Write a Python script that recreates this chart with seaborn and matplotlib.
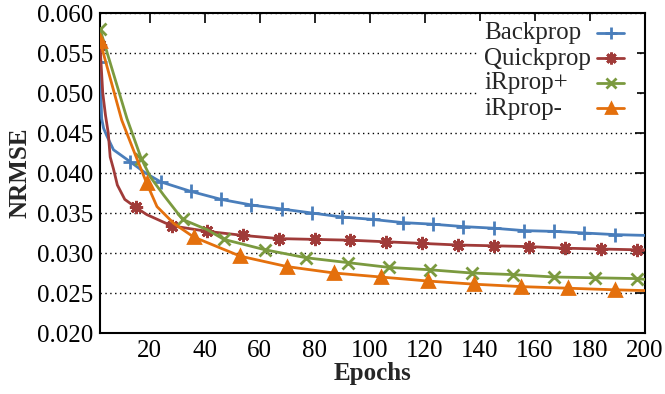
import numpy as np
import pandas as pd
import matplotlib
matplotlib.use("Agg")
import matplotlib.pyplot as plt
from matplotlib.patches import Rectangle
import seaborn as sns

# ---- data ----
series_names = ["Backprop", "Quickprop", "iRprop+", "iRprop-"]

bp_epochs = [2, 2.6, 3.3, 4.4, 6.9, 13, 18.5, 24, 35, 46, 57, 68, 79, 90, 101, 112, 123, 134, 145, 156, 167, 178, 189, 200]
bp_nrmse = [0.0539, 0.0468, 0.0456, 0.0447, 0.0429, 0.0414, 0.0400, 0.0389, 0.0377, 0.0367, 0.0360, 0.0355, 0.0350,
            0.0345, 0.0342, 0.0338, 0.0336, 0.0333, 0.0331, 0.0328, 0.0327, 0.0325, 0.0323, 0.0322]
bp_marks = [2, 13, 24, 35, 46, 57, 68, 79, 90, 101, 112, 123, 134, 145, 156, 167, 178, 189]

qp_epochs = [2, 3, 4, 5, 5.7, 6.9, 8.3, 11, 15, 19, 28, 41, 54, 67, 80, 93, 106, 119, 132, 145, 158, 171, 184, 197, 200]
qp_nrmse = [0.0560, 0.0500, 0.0472, 0.0450, 0.0420, 0.0405, 0.0385, 0.0367, 0.0357, 0.0348, 0.0334, 0.0327, 0.0322,
            0.0318, 0.0317, 0.0316, 0.0314, 0.0312, 0.0310, 0.0309, 0.0308, 0.0306, 0.0305, 0.0304, 0.0304]
qp_marks = [2, 15, 28, 41, 54, 67, 80, 93, 106, 119, 132, 145, 158, 171, 184, 197]

ip_epochs = [2, 11.8, 17, 20.3, 25.2, 32, 41, 47, 62, 77, 92, 107, 122, 137, 152, 167, 182, 197, 200]
ip_nrmse = [0.0580, 0.0468, 0.0418, 0.0395, 0.0372, 0.0342, 0.0329, 0.0317, 0.0304, 0.0294, 0.0288, 0.0282, 0.0279,
            0.0275, 0.0273, 0.0270, 0.0269, 0.0268, 0.0267]
ip_marks = [2, 17, 32, 47, 62, 77, 92, 107, 122, 137, 152, 167, 182, 197]

im_epochs = [2, 9.9, 14.8, 19, 22.7, 28.8, 36, 53, 70, 87, 104, 121, 138, 155, 172, 189, 200]
im_nrmse = [0.0565, 0.0466, 0.0423, 0.0387, 0.0358, 0.0337, 0.0320, 0.0296, 0.0283, 0.0275, 0.0270, 0.0265, 0.0261,
            0.0258, 0.0256, 0.0254, 0.0253]
im_marks = [2, 19, 36, 53, 70, 87, 104, 121, 138, 155, 172, 189]

x_ticks = [20, 40, 60, 80, 100, 120, 140, 160, 180, 200]
y_ticks = [0.020, 0.025, 0.030, 0.035, 0.040, 0.045, 0.050, 0.055, 0.060]

# ---- styling ----
sns.set_style("white")
plt.rcParams["font.family"] = ["Liberation Serif", "DejaVu Serif"]

colors = ["#4a7ebb", "#a03b39", "#7b9a3f", "#e4700d"]
markers = ["+", (8, 2, 0), "x", "^"]
msizes = [9.5, 9.5, 8.5, 8]

W, H = 665, 394
L, R, T, B = 100, 645, 13, 333
fig = plt.figure(figsize=(W / 100, H / 100), dpi=100)
ax = fig.add_axes([L / W, 1 - B / H, (R - L) / W, (B - T) / H])


def fx(px):
    return (px - L) / (R - L)


def fy(py):
    return (B - py) / (B - T)


all_data = [
    (bp_epochs, bp_nrmse, bp_marks),
    (qp_epochs, qp_nrmse, qp_marks),
    (ip_epochs, ip_nrmse, ip_marks),
    (im_epochs, im_nrmse, im_marks),
]

for i, (ep, val, mk) in enumerate(all_data):
    df = pd.DataFrame({"Epochs": ep, "NRMSE": val})
    idx = [j for j, e in enumerate(ep) if e in mk]
    sns.lineplot(data=df, x="Epochs", y="NRMSE", ax=ax, color=colors[i], lw=2.0,
                 marker=markers[i], markersize=msizes[i], markeredgewidth=2,
                 markeredgecolor=colors[i], markerfacecolor=colors[i],
                 markevery=idx, sort=False, estimator=None, zorder=3, legend=False)

ax.set_xlim(2, 200)
ax.set_ylim(0.020, 0.060)
ax.set_xticks(x_ticks)
ax.set_yticks(y_ticks)
ax.set_yticklabels([f"{v:.3f}" for v in y_ticks])
ax.tick_params(direction="in", length=7, width=1.2, top=True, right=True, labelsize=18, pad=5,
               colors="black")
ax.yaxis.grid(True, linestyle=(0, (1, 2.5)), color="black", lw=1.0)
ax.xaxis.grid(False)
for s in ax.spines.values():
    s.set_color("black")
    s.set_linewidth(1.5)

ax.set_xlabel("Epochs", fontsize=18, fontweight="bold", labelpad=0)
ax.set_ylabel("NRMSE", fontsize=18, fontweight="bold", labelpad=4)

# ---- gnuplot-style key: left-justified text, sample on the right ----
ax.add_patch(Rectangle((fx(478), fy(121)), fx(637) - fx(478), fy(21) - fy(121),
                       transform=ax.transAxes, facecolor="white", edgecolor="none", zorder=2))
for i, name in enumerate(series_names):
    yc = 33 + 25 * i
    ax.text(fx(484), fy(yc + 6.5), name, transform=ax.transAxes, ha="left", va="baseline",
            fontsize=18, zorder=4)
    ax.plot([fx(597), fx(610.5), fx(624)], [fy(yc)] * 3, transform=ax.transAxes, clip_on=False,
            color=colors[i], lw=2.0, marker=markers[i], markersize=msizes[i] - 1, markeredgewidth=2,
            markeredgecolor=colors[i], markerfacecolor=colors[i], markevery=[1], zorder=4)

fig.savefig("out.png", dpi=100)
